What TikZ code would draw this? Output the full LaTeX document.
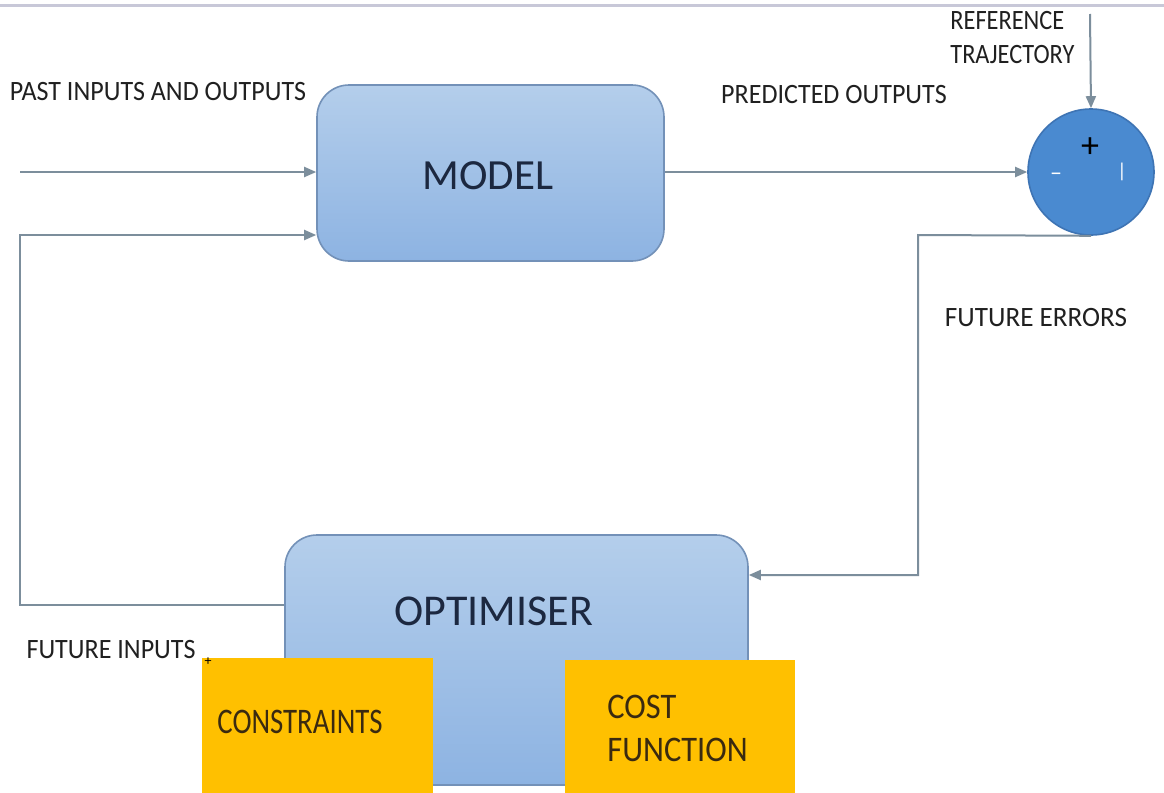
\documentclass[tikz,border=0pt]{standalone}
\usepackage{fontspec}
\setmainfont{Carlito}
\usetikzlibrary{arrows.meta}
\definecolor{arrowgray}{HTML}{7C8E9C}
\definecolor{boxtop}{HTML}{B4CEEB}
\definecolor{boxbot}{HTML}{8DB3E2}
\definecolor{boxedge}{HTML}{7391B8}
\definecolor{sumfill}{HTML}{4A8AD0}
\definecolor{sumedge}{HTML}{3E74B4}
\definecolor{orangebox}{HTML}{FFC000}
\definecolor{navytext}{HTML}{1C2840}
\definecolor{labeltext}{HTML}{202020}
\definecolor{browntext}{HTML}{3A2A10}
\definecolor{topline}{HTML}{C8C8D8}
\newcommand{\nx}[2][0.93]{\scalebox{#1}[1]{#2}}
\tikzset{
  conn/.style={draw=arrowgray, line width=1pt},
  arr/.style={conn, -{Triangle[length=6pt,width=5pt]}},
  bluebox/.style={rectangle, rounded corners=16pt, draw=boxedge, line width=0.8pt,
    top color=boxtop, bottom color=boxbot, inner sep=0pt},
  orange/.style={rectangle, fill=orangebox, inner sep=0pt},
  lbl/.style={font=\fontsize{14}{17}\selectfont, text=labeltext, inner sep=0pt},
  otext/.style={font=\fontsize{18}{21.5}\selectfont, text=browntext, inner sep=0pt},
}
\begin{document}
\begin{tikzpicture}[x=0.5pt,y=-0.5pt]
\useasboundingbox (0,0) rectangle (1164,793);
\clip (0,0) rectangle (1164,793);
\fill[white] (0,0) rectangle (1164,793);
\draw[topline, line width=1.5pt] (0,5) -- (1164,5);

% boxes
\node[bluebox, minimum width=173.5pt, minimum height=88pt] (model) at (490.5,173) {};
\node[font=\fontsize{21.5}{24}\selectfont, text=navytext] (modeltext) at (488,176) {MODEL};

\node[bluebox, minimum width=231.5pt, minimum height=125pt] (opt) at (516.5,660) {};
\node[font=\fontsize{22}{26}\selectfont, text=navytext] (opttext) at (494,611) {OPTIMISER};

\node[orange, minimum width=115.5pt, minimum height=67.5pt] (cons) at (317.5,725.5) {};
\node[otext, anchor=west] (constext) at (217,722) {\nx[0.8]{CONSTRAINTS}};

\node[orange, minimum width=115pt, minimum height=66.5pt] (cost) at (680,726.5) {};
\node[otext, anchor=west, align=left] (costtext) at (607,728) {\nx[0.9]{COST}\\\nx[0.9]{FUNCTION}};

% summing junction
\node[circle, fill=sumfill, draw=sumedge, line width=0.8pt, minimum size=63pt, inner sep=0pt] (sum) at (1091,172) {};
\node[font=\fontsize{18}{18}\selectfont, text=black, inner sep=0pt] (plus) at (1090,148) {+};
\node[font=\fontsize{12}{12}\selectfont, text=white, inner sep=0pt] (minus) at (1056,177) {--};
\node[font=\fontsize{10}{10}\selectfont, text=white, inner sep=0pt] (bar) at (1122,172) {|};

% labels
\node[lbl] (past) at (158,92) {\nx{PAST INPUTS AND OUTPUTS}};
\node[lbl] (pred) at (834,95) {\nx{PREDICTED OUTPUTS}};
\node[lbl, anchor=west, align=left] (reflbl) at (950,38) {\nx[0.87]{REFERENCE}\\\nx[0.87]{TRAJECTORY}};
\node[lbl] (ferr) at (1036,318) {\nx[0.97]{FUTURE ERRORS}};
\node[lbl] (finp) at (111,650) {\nx{FUTURE INPUTS}};
\node[font=\fontsize{7}{7}\selectfont, inner sep=0pt] (dot) at (208,662) {+};

% connectors
\coordinate (in1) at (20,172);
\coordinate (in2) at (20,235);
\coordinate (c1) at (20,605);
\coordinate (ref) at (1090,14);
\coordinate (e1) at (918,235);
\coordinate (e2) at (918,575);

\draw[arr] (in1) -- (in1 -| model.west);
\draw[arr] (opt.west |- c1) -- (c1) -- (in2) -- (in2 -| model.west);
\draw[arr] (model.east |- sum.west) -- (sum.west);
\draw[arr] (ref) -- (sum.north);
\draw[arr] (sum.south) -- (e1) -- (e2) -- (e2 -| opt.east);
\end{tikzpicture}
\end{document}
